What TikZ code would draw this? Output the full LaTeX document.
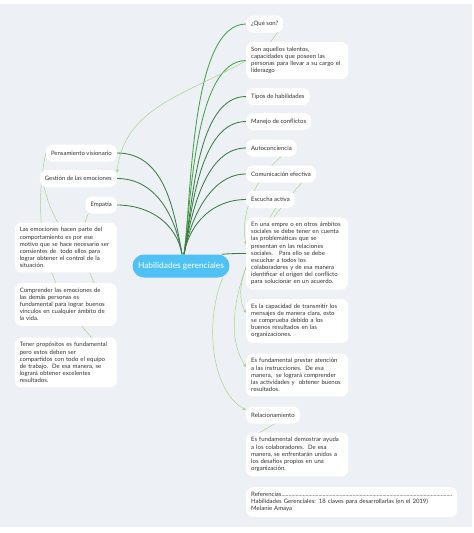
\documentclass[tikz,border=0pt]{standalone}
\usepackage{fontspec}
\setmainfont{Lato}
\usetikzlibrary{backgrounds}
\definecolor{bgmap}{HTML}{EDF1F5}
\definecolor{hubblue}{HTML}{4FC1F5}
\definecolor{branchgreen}{HTML}{3B7D45}
\definecolor{branchlight}{HTML}{45A14A}
\definecolor{relgreen}{HTML}{A9D18E}
\definecolor{txtgray}{HTML}{333333}

\begin{document}
\begin{tikzpicture}[x=1pt,y=-1pt,>=stealth]
  \tikzstyle{topic}=[fill=white, rounded corners=7pt, inner xsep=5pt, inner ysep=5pt, text=txtgray, font=\fontsize{6}{7.1}\selectfont, align=left]
  \tikzstyle{shorttopic}=[topic, minimum height=17pt]
  \tikzstyle{note}=[topic, text width=92pt]
  \tikzstyle{branch}=[draw=branchgreen, line width=0.85pt]
  \tikzstyle{rel}=[draw=relgreen, line width=0.5pt]

  \useasboundingbox (0,0) rectangle (474,533);

  \node[fill=hubblue, text=white, rounded corners=11.5pt, minimum width=97pt, minimum height=23pt, font=\fontsize{8.4}{9}\selectfont] (hab) at (181,266) {Habilidades gerenciales};

  % right column
  \node[shorttopic, anchor=west] (qs) at (246,24) {¿Qué son?};
  \node[note, anchor=west] (son) at (246,60.5) {Son aquellos talentos,\\capacidades que poseen las\\personas para llevar a su cargo el\\liderazgo};
  \node[shorttopic, anchor=west] (tipos) at (246,96.5) {Tipos de habilidades};
  \node[shorttopic, anchor=west] (manejo) at (246,121.5) {Manejo de conflictos};
  \node[shorttopic, anchor=west] (auto) at (246,148) {Autoconciencia};
  \node[shorttopic, anchor=west] (comu) at (246,174) {Comunicación efectiva};
  \node[shorttopic, anchor=west] (escu) at (246,199.5) {Escucha activa};
  \node[note, anchor=west] (empre) at (246,253.5) {En una empre o en otros ámbitos\\sociales se debe tener en cuenta\\las problemáticas que se\\presentan en las relaciones\\sociales.~~~Para ello se debe\\escuchar a todos los\\colaboradores y de esa manera\\identificar el origen del conflicto\\para solucionar en un acuerdo.};
  \node[note, anchor=west] (capac) at (246,321) {Es la capacidad de transmitir los\\mensajes de manera clara, esto\\se comprueba debido a los\\buenos resultados en las\\organizaciones.};
  \node[note, anchor=west] (prestar) at (246,375) {Es fundamental prestar atención\\a las instrucciones.~~De esa\\manera,~~se logrará comprender\\las actividades y~~obtener buenos\\resultados.};
  \node[shorttopic, anchor=west] (rela) at (246,415) {Relacionamiento};
  \node[note, anchor=west] (demos) at (246,454.5) {Es fundamental demostrar ayuda\\a los colaboradores.~~De esa\\manera, se enfrentarán unidos a\\los desafíos propios en una\\organización.};
  \node[topic, text width=201pt, anchor=west] (refs) at (246,502) {Referencias\xleaders\hbox{.}\hfill\null\\Habilidades Gerenciales: 18 claves para desarrollarlas (en el 2019)\\Melanie Amaya};

  % left column
  \node[shorttopic, anchor=east] (pens) at (117,153) {Pensamiento visionario};
  \node[shorttopic, anchor=east] (gest) at (117,178.5) {Gestión de las emociones};
  \node[shorttopic, anchor=east] (emp) at (117,205) {Empatía};
  \node[note, anchor=east] (emoc) at (117,247.5) {Las emociones hacen parte del\\comportamiento es por ese\\motivo que se hace necesario ser\\consientes de~~todo ellos para\\lograr obtener el control de la\\situación.};
  \node[note, anchor=east] (compr) at (117,304.5) {Comprender las emociones de\\las demás personas es\\fundamental para lograr buenos\\vínculos en cualquier ámbito de\\la vida.};
  \node[note, anchor=east] (tener) at (117,362.5) {Tener propósitos es fundamental\\pero estos deben ser\\compartidos con todo el equipo\\de trabajo.~~De esa manera, se\\logrará obtener excelentes\\resultados.};

  \begin{scope}[on background layer]
    \fill[bgmap] (0,4) rectangle (472,527);

    % branches from the central topic
    \draw[branch, draw=branchlight] ([xshift=3pt]hab.north) to[out=82,in=180,looseness=0.6] (qs.west);
    \draw[branch, draw=branchlight] ([xshift=3pt]hab.north) to[out=82,in=180,looseness=0.65] (son.west);
    \draw[branch] ([xshift=3pt]hab.north) to[out=80,in=180,looseness=0.75] (tipos.west);
    \draw[branch] ([xshift=3pt]hab.north) to[out=80,in=180,looseness=0.8] (manejo.west);
    \draw[branch] ([xshift=3pt]hab.north) to[out=80,in=180,looseness=0.85] (auto.west);
    \draw[branch] ([xshift=3pt]hab.north) to[out=80,in=180,looseness=0.9] (comu.west);
    \draw[branch] ([xshift=3pt]hab.north) to[out=80,in=180] (escu.west);
    \draw[branch] ([xshift=-8pt]hab.north east) to[out=5,in=180] (empre.west);
    \draw[branch] ([xshift=1pt]hab.north) to[out=100,in=0] (pens.east);
    \draw[branch] ([xshift=1pt]hab.north) to[out=100,in=0] (gest.east);
    \draw[branch] ([xshift=1pt]hab.north) to[out=100,in=0] (emp.east);

    % relation arrows
    \draw[rel] (qs.east) -- ([xshift=11pt]son.west);
    \draw[rel,->] (son.west) .. controls (189,94) and (124,106) .. ([yshift=6pt]gest.east);
    \draw[rel,->] ([xshift=47pt]auto.west) .. controls (254,173) and (240,215) .. ([yshift=9pt]empre.west);
    \draw[rel,->] ([xshift=64pt]comu.west) .. controls (280,205) and (225,275) .. ([yshift=8pt]capac.west);
    \draw[rel,->] ([xshift=36pt]escu.west) .. controls (255,235) and (215,320) .. ([yshift=8pt]prestar.west);
    \draw[rel,->] ([xshift=-7pt]hab.south east) .. controls (205,320) and (210,390) .. ([yshift=5pt]rela.west);
    \draw[rel] ([xshift=44pt]rela.west) -- ([yshift=14pt]demos.west);
    \draw[rel] (pens.west) .. controls (30,230) and (50,300) .. ([xshift=-17pt,yshift=17pt]tener.east);
    \draw[rel] ([xshift=3pt,yshift=-3pt]gest.west) to[out=-75,in=120] ([xshift=-8pt]emoc.north);
    \draw[rel] ([xshift=3pt]emp.south west) .. controls (76,240) and (85,265) .. ([xshift=-15pt,yshift=4pt]compr.east);
  \end{scope}
\end{tikzpicture}
\end{document}
